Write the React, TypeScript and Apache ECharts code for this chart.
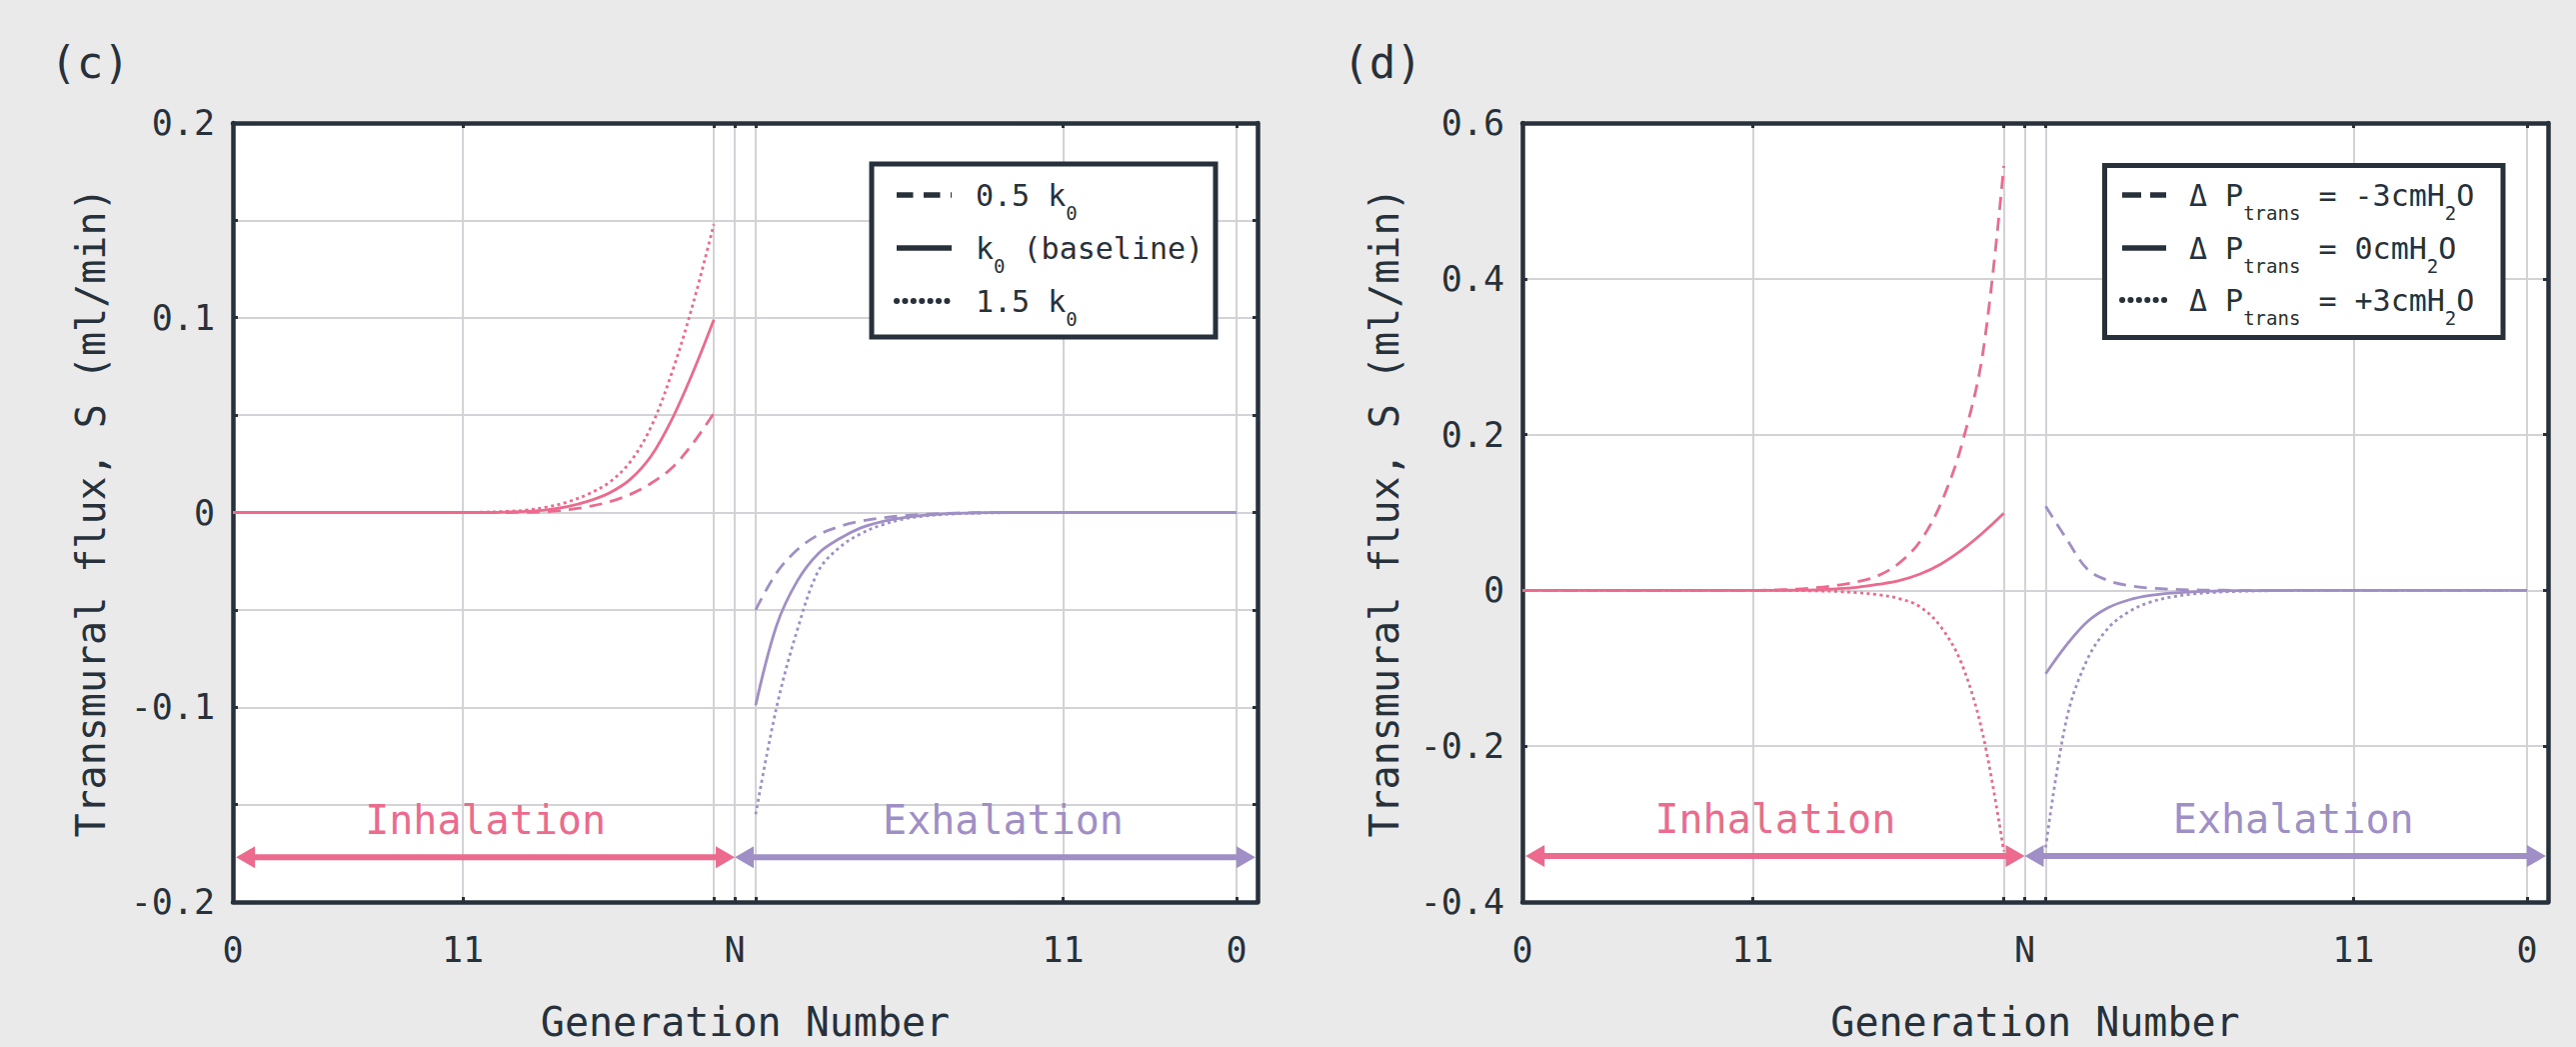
import React, { useEffect, useRef } from 'react';
import * as echarts from 'echarts';

const FONT = '"DejaVu Sans Mono", "Liberation Mono", monospace';
const DARK = '#27313b';
const PINK = '#ec6a8d';
const PURPLE = '#a08fc6';
const GRIDLINE = '#d3d3d7';
const BG = '#eaeaea';

// ---- axis positions (x axis units) ----
const INHALE_POS = [0, 1, 2, 3, 4, 5, 6, 7, 8, 9, 10, 11, 12, 13, 14, 15, 16, 17, 18, 19, 20, 21, 22, 23];
const EXHALE_POS = [25, 26, 27, 28, 29, 30, 31, 32, 33, 34, 35, 36, 37, 38, 39, 40, 41, 42, 43, 44, 45, 46, 47, 48];
const X_TICK_POS = [0, 11, 23, 24, 25, 39.7, 48];
const X_LABEL_POS = [0, 11, 24, 39.7, 48];
const X_LABEL_TEXT = ['0', '11', 'N', '11', '0'];
const PHASE_LABELS = ['Inhalation', 'Exhalation'];
const PHASE_SPANS = [[0.15, 24], [24, 48.9]];
const PHASE_COLORS = [PINK, PURPLE];
const ARROW_Y_C = -0.177;
const ARROW_Y_D = -0.341;

// ---- panel (c): varying k ----
const C_INH_HALF = [0, 0, 0, 0, 0, 0, 0, 0, 0, 0, 0, 0, 0, 0, 0.0001, 0.0004, 0.0014, 0.003, 0.0055, 0.0093, 0.015, 0.023, 0.0355, 0.051];
const C_INH_BASE = [0, 0, 0, 0, 0, 0, 0, 0, 0, 0, 0, 0, 0, 0.0002, 0.0006, 0.0014, 0.003, 0.0058, 0.01, 0.017, 0.029, 0.048, 0.072, 0.099];
const C_INH_ONEHALF = [0, 0, 0, 0, 0, 0, 0, 0, 0, 0, 0, 0, 0.0002, 0.0005, 0.0012, 0.0028, 0.0054, 0.0095, 0.0155, 0.026, 0.044, 0.072, 0.107, 0.148];
const C_EXH_HALF = [-0.05, -0.031, -0.019, -0.0115, -0.0072, -0.0045, -0.0028, -0.0017, -0.001, -0.0005, -0.0002, -0.0001, 0, 0, 0, 0, 0, 0, 0, 0, 0, 0, 0, 0];
const C_EXH_BASE = [-0.099, -0.058, -0.035, -0.021, -0.0135, -0.008, -0.0048, -0.0028, -0.0015, -0.0007, -0.0003, -0.0001, 0, 0, 0, 0, 0, 0, 0, 0, 0, 0, 0, 0];
const C_EXH_ONEHALF = [-0.155, -0.1, -0.06, -0.03, -0.018, -0.011, -0.0065, -0.0035, -0.0019, -0.001, -0.0005, -0.0002, -0.0001, 0, 0, 0, 0, 0, 0, 0, 0, 0, 0, 0];

// ---- panel (d): varying transmural pressure ----
const D_INH_NEG = [0, 0, 0, 0, 0, 0, 0, 0, 0, 0, 0, 0, 0.0005, 0.0015, 0.0035, 0.0065, 0.011, 0.019, 0.035, 0.063, 0.112, 0.188, 0.305, 0.545];
const D_INH_ZERO = [0, 0, 0, 0, 0, 0, 0, 0, 0, 0, 0, 0, 0, 0.0003, 0.0008, 0.002, 0.004, 0.0078, 0.0125, 0.021, 0.034, 0.052, 0.074, 0.099];
const D_INH_POS = [0, 0, 0, 0, 0, 0, 0, 0, 0, 0, 0, 0, 0, -0.0002, -0.0006, -0.0013, -0.003, -0.0055, -0.0105, -0.021, -0.047, -0.095, -0.185, -0.335];
const D_EXH_NEG = [0.108, 0.066, 0.027, 0.0125, 0.006, 0.003, 0.0015, 0.0007, 0.0003, 0.0001, 0, 0, 0, 0, 0, 0, 0, 0, 0, 0, 0, 0, 0, 0];
const D_EXH_ZERO = [-0.107, -0.07, -0.04, -0.022, -0.012, -0.0065, -0.0035, -0.0018, -0.0009, -0.0004, -0.0002, -0.0001, 0, 0, 0, 0, 0, 0, 0, 0, 0, 0, 0, 0];
const D_EXH_POS = [-0.33, -0.165, -0.088, -0.048, -0.027, -0.015, -0.0085, -0.0047, -0.0026, -0.0014, -0.0007, -0.0003, -0.0001, 0, 0, 0, 0, 0, 0, 0, 0, 0, 0, 0];

const C_LEGEND = ['{m|0.5 k}{s|0}', '{m|k}{s|0}{m| (baseline)}', '{m|1.5 k}{s|0}'];
const D_LEGEND = ['{m|Δ P}{s|trans}{m| = -3cmH}{s|2}{m|O}', '{m|Δ P}{s|trans}{m| = 0cmH}{s|2}{m|O}', '{m|Δ P}{s|trans}{m| = +3cmH}{s|2}{m|O}'];
const PANEL_TITLES = ['(c)', '(d)'];
const Y_TITLE = 'Transmural flux, S (ml/min)';
const X_TITLE = 'Generation Number';

const DASH = [13, 8];
const DOT = [3, 3.5];

function fmtY(v: number): string {
  if (Math.abs(v) < 1e-9) return '0';
  return String(parseFloat(v.toFixed(2)));
}

function xLabel(v: number): string {
  for (let i = 0; i < X_LABEL_POS.length; i++) {
    if (Math.abs(X_LABEL_POS[i] - v) < 1e-6) return X_LABEL_TEXT[i];
  }
  return '';
}

function lineSeries(name: string, axisIdx: number, xs: number[], ys: number[], color: string, type: any) {
  return {
    name,
    type: 'line',
    xAxisIndex: axisIdx,
    yAxisIndex: axisIdx,
    data: xs.map((x, i) => [x, ys[i]]),
    showSymbol: false,
    smooth: 0.35,
    lineStyle: { color, width: 2.8, type },
    z: 3,
  };
}

function phaseSeries(axisIdx: number, arrowY: number) {
  return {
    type: 'custom',
    xAxisIndex: axisIdx,
    yAxisIndex: axisIdx,
    coordinateSystem: 'cartesian2d',
    clip: false,
    silent: true,
    z: 6,
    data: PHASE_SPANS.map((s, i) => [s[0], s[1], arrowY, i]),
    encode: { x: [0, 1], y: 2 },
    renderItem: (params: any, api: any) => {
      const i = api.value(3);
      const p1 = api.coord([api.value(0), api.value(2)]);
      const p2 = api.coord([api.value(1), api.value(2)]);
      const color = PHASE_COLORS[i];
      const hl = 19;
      const hw = 11;
      const textShift = i === 1 ? 8 : 0;
      return {
        type: 'group',
        children: [
          { type: 'line', shape: { x1: p1[0] + hl - 1, y1: p1[1], x2: p2[0] - hl + 1, y2: p2[1] }, style: { stroke: color, lineWidth: 6 } },
          { type: 'polygon', shape: { points: [[p1[0], p1[1]], [p1[0] + hl, p1[1] - hw], [p1[0] + hl, p1[1] + hw]] }, style: { fill: color } },
          { type: 'polygon', shape: { points: [[p2[0], p2[1]], [p2[0] - hl, p2[1] - hw], [p2[0] - hl, p2[1] + hw]] }, style: { fill: color } },
          {
            type: 'text',
            x: (p1[0] + p2[0]) / 2 + textShift,
            y: p1[1] - 37,
            style: { text: PHASE_LABELS[i], fill: color, fontSize: 40, fontFamily: FONT, align: 'center', verticalAlign: 'middle' },
          },
        ],
      };
    },
  };
}

function xAxes(gridIndex: number) {
  const tick = { show: true, inside: true, length: 5, lineStyle: { color: DARK, width: 3 }, customValues: X_TICK_POS };
  return [
    {
      type: 'value', gridIndex, min: 0, max: 49, position: 'bottom',
      name: X_TITLE, nameLocation: 'middle', nameGap: 100,
      nameTextStyle: { fontSize: 40, color: DARK, fontFamily: FONT },
      axisLine: { show: true, onZero: false, lineStyle: { color: DARK, width: 4.5 } },
      axisTick: tick,
      axisLabel: { customValues: X_LABEL_POS, formatter: (v: number) => xLabel(v), margin: 30, fontSize: 35, color: DARK, fontFamily: FONT },
      splitLine: { show: true, lineStyle: { color: GRIDLINE, width: 2 } },
    },
    {
      type: 'value', gridIndex, min: 0, max: 49, position: 'top',
      axisLine: { show: true, onZero: false, lineStyle: { color: DARK, width: 4.5 } },
      axisTick: tick,
      axisLabel: { show: false },
      splitLine: { show: false },
    },
  ];
}

function yAxes(gridIndex: number, min: number, max: number, interval: number, labelStep: number, nameGap: number) {
  const tick = { show: true, inside: true, length: 5, lineStyle: { color: DARK, width: 3 } };
  return [
    {
      type: 'value', gridIndex, min, max, interval, position: 'left',
      name: Y_TITLE, nameLocation: 'middle', nameGap,
      nameTextStyle: { fontSize: 40, color: DARK, fontFamily: FONT },
      axisLine: { show: true, onZero: false, lineStyle: { color: DARK, width: 4.5 } },
      axisTick: tick,
      axisLabel: {
        margin: 18, fontSize: 35, color: DARK, fontFamily: FONT,
        formatter: (v: number) => {
          const r = v / labelStep;
          return Math.abs(r - Math.round(r)) < 1e-6 ? fmtY(v) : '';
        },
      },
      splitLine: { show: true, lineStyle: { color: GRIDLINE, width: 2 } },
    },
    {
      type: 'value', gridIndex, min, max, interval, position: 'right',
      axisLine: { show: true, onZero: false, lineStyle: { color: DARK, width: 4.5 } },
      axisTick: tick,
      axisLabel: { show: false },
      splitLine: { show: false },
    },
  ];
}

function legendGroup(box: number[], rowsY: number[], lineX: number[], textX: number, texts: string[], dashes: any[]) {
  const children: any[] = [
    { type: 'rect', shape: { x: box[0], y: box[1], width: box[2], height: box[3] }, style: { fill: '#ffffff', stroke: DARK, lineWidth: 5 }, z: 20 },
  ];
  rowsY.forEach((y, i) => {
    const d = dashes[i];
    children.push({
      type: 'line',
      shape: { x1: lineX[0], y1: y, x2: lineX[1], y2: y },
      style: { stroke: DARK, lineWidth: d && d.round ? 6 : 5.5, lineDash: d ? d.dash : null, lineCap: d && d.round ? 'round' : 'butt' },
      z: 21,
    });
    children.push({
      type: 'text',
      x: textX,
      y,
      style: {
        text: texts[i],
        align: 'left',
        verticalAlign: 'middle',
        fill: DARK,
        rich: {
          m: { fontSize: 30, fontFamily: FONT, fill: DARK },
          s: { fontSize: 19, fontFamily: FONT, fill: DARK, padding: [35, 0, 0, 0] },
        },
      },
      z: 21,
    });
  });
  return { type: 'group', children };
}

export default function App() {
  const ref = useRef<HTMLDivElement>(null);
  useEffect(() => {
    document.body.style.margin = '0';
    document.body.style.background = BG;
    if (!ref.current) return;
    const chart = echarts.init(ref.current, null, { renderer: 'svg' });
    const option: any = {
      animation: false,
      backgroundColor: BG,
      grid: [
        { left: 233, top: 123, width: 1025, height: 780, show: true, backgroundColor: '#ffffff', borderWidth: 0 },
        { left: 1523, top: 123, width: 1026, height: 780, show: true, backgroundColor: '#ffffff', borderWidth: 0 },
      ],
      xAxis: [...xAxes(0), ...xAxes(1)],
      yAxis: [...yAxes(0, -0.2, 0.2, 0.05, 0.1, 122), ...yAxes(1, -0.4, 0.6, 0.2, 0.2, 118)],
      series: [
        lineSeries('0.5 k0 inhale', 0, INHALE_POS, C_INH_HALF, PINK, DASH),
        lineSeries('k0 inhale', 0, INHALE_POS, C_INH_BASE, PINK, 'solid'),
        lineSeries('1.5 k0 inhale', 0, INHALE_POS, C_INH_ONEHALF, PINK, DOT),
        lineSeries('0.5 k0 exhale', 0, EXHALE_POS, C_EXH_HALF, PURPLE, DASH),
        lineSeries('k0 exhale', 0, EXHALE_POS, C_EXH_BASE, PURPLE, 'solid'),
        lineSeries('1.5 k0 exhale', 0, EXHALE_POS, C_EXH_ONEHALF, PURPLE, DOT),
        phaseSeries(0, ARROW_Y_C),
        lineSeries('-3 inhale', 2, INHALE_POS, D_INH_NEG, PINK, DASH),
        lineSeries('0 inhale', 2, INHALE_POS, D_INH_ZERO, PINK, 'solid'),
        lineSeries('+3 inhale', 2, INHALE_POS, D_INH_POS, PINK, DOT),
        lineSeries('-3 exhale', 2, EXHALE_POS, D_EXH_NEG, PURPLE, DASH),
        lineSeries('0 exhale', 2, EXHALE_POS, D_EXH_ZERO, PURPLE, 'solid'),
        lineSeries('+3 exhale', 2, EXHALE_POS, D_EXH_POS, PURPLE, DOT),
        phaseSeries(2, ARROW_Y_D),
      ],
      graphic: [
        { type: 'text', x: 90, y: 62, style: { text: PANEL_TITLES[0], fontSize: 44, fontFamily: FONT, fill: DARK, align: 'center', verticalAlign: 'middle' } },
        { type: 'text', x: 1383, y: 62, style: { text: PANEL_TITLES[1], fontSize: 44, fontFamily: FONT, fill: DARK, align: 'center', verticalAlign: 'middle' } },
        legendGroup([872, 164, 344, 173], [195, 248, 301], [897, 952], 976, C_LEGEND,
          [{ dash: [16.5, 10.5] }, null, { dash: [0.1, 8.3], round: true }]),
        legendGroup([2105.5, 165.5, 398.5, 172], [195, 248, 300], [2123, 2167], 2190, D_LEGEND,
          [{ dash: [19, 9] }, null, { dash: [0.1, 8.3], round: true }]),
      ],
    };
    chart.setOption(option);
    return () => chart.dispose();
  }, []);
  return <div ref={ref} style={{ width: 2577, height: 1047, background: BG }} />;
}
